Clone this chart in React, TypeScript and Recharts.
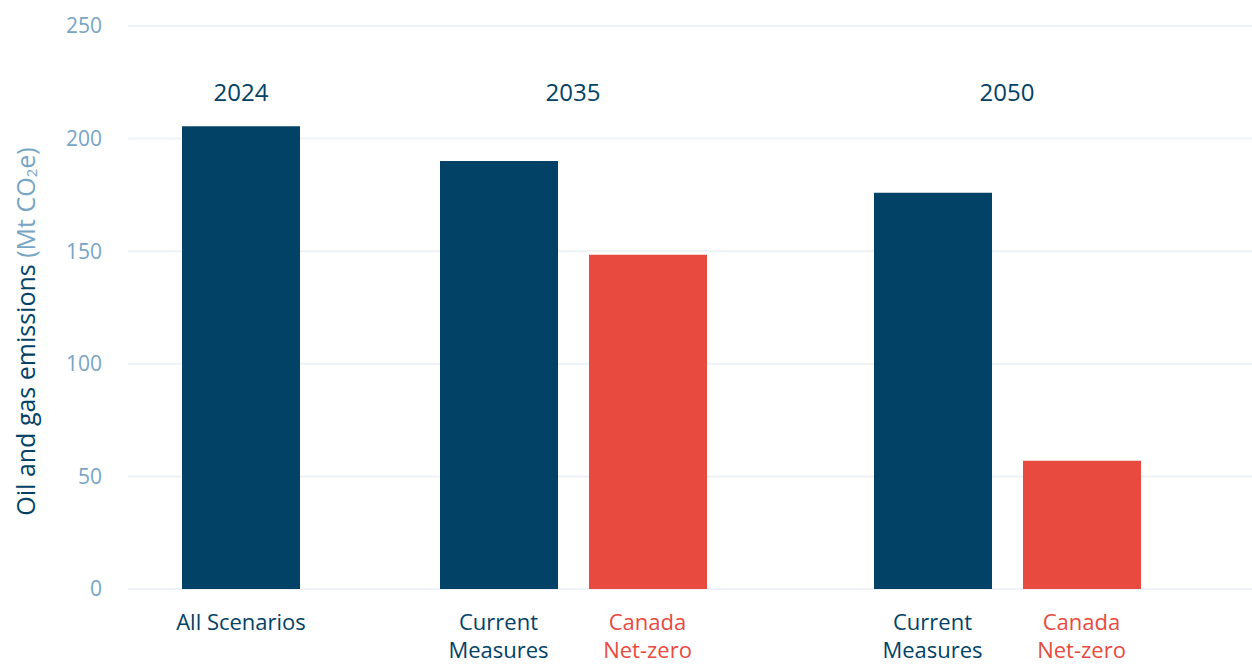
import React from 'react';
import {
  BarChart,
  Bar,
  Cell,
  XAxis,
  YAxis,
  CartesianGrid,
  ReferenceArea,
} from 'recharts';

// values (Mt CO2e)
const years = ['2024', '2035', '2050'];
const baseCategories = ['All Scenarios'];
const scenarioCategories = ['Current Measures', 'Canada Net-zero'];
const emissions2024 = [205.5];
const emissions2035 = [190, 148.4];
const emissions2050 = [176, 57];
const yTicks = [0, 50, 100, 150, 200, 250];

const NAVY = '#024266';
const RED = '#e84a40';
const TICK_BLUE = '#77a5c5';
const GRID = '#eef2f6';
const FONT = "'Open Sans', 'Noto Sans', sans-serif";

const categoryColor: Record<string, string> = {
  'All Scenarios': NAVY,
  'Current Measures': NAVY,
  'Canada Net-zero': RED,
};

const CHART_HEIGHT = 664;
const MARGIN = { top: 26, right: 0, bottom: 0, left: 0 };
const X_AXIS_HEIGHT = 75;

const tickLines = (label: string) =>
  label === 'All Scenarios' ? [label] : label.split(' ');

function CategoryTick(props: any) {
  const { x, y, payload } = props;
  const label: string = payload.value;
  return (
    <g transform={`translate(${x},${y})`}>
      {tickLines(label).map((line, i) => (
        <text
          key={line}
          x={0}
          y={35 + i * 28}
          textAnchor="middle"
          fontFamily={FONT}
          fontSize={22}
          fill={categoryColor[label]}
        >
          {line}
        </text>
      ))}
    </g>
  );
}

function AxisTitle(props: any) {
  const { x, y, height } = props.viewBox;
  const cx = x + 25;
  const cy = y + height / 2 + 24;
  return (
    <text
      x={cx}
      y={cy}
      transform={`rotate(-90, ${cx}, ${cy})`}
      textAnchor="middle"
      dominantBaseline="central"
      fontFamily={FONT}
      fontSize={25}
    >
      <tspan fill={NAVY}>Oil and gas emissions </tspan>
      <tspan fill={TICK_BLUE}>(Mt CO</tspan>
      <tspan fill={TICK_BLUE} fontSize={15} dy={6}>
        2
      </tspan>
      <tspan fill={TICK_BLUE} dy={-6}>
        e)
      </tspan>
    </text>
  );
}

interface GroupChartProps {
  year: string;
  categories: string[];
  values: number[];
  width: number;
  padding: { left: number; right: number };
  showYAxis?: boolean;
}

function GroupChart({
  year,
  categories,
  values,
  width,
  padding,
  showYAxis,
}: GroupChartProps) {
  const data = categories.map((category, i) => ({
    category,
    emissions: values[i],
  }));

  return (
    <BarChart
      width={width}
      height={CHART_HEIGHT}
      data={data}
      margin={MARGIN}
      barSize={118}
    >
      <CartesianGrid vertical={false} stroke={GRID} strokeWidth={2} />
      <XAxis
        dataKey="category"
        axisLine={false}
        tickLine={false}
        tickMargin={0}
        height={X_AXIS_HEIGHT}
        padding={padding}
        interval={0}
        tick={<CategoryTick />}
      />
      <YAxis
        hide={!showYAxis}
        domain={[0, 250]}
        ticks={yTicks}
        width={128}
        axisLine={false}
        tickLine={false}
        tickMargin={20}
        tick={{ fill: TICK_BLUE, fontSize: 21, fontFamily: FONT }}
        label={{ content: (p: any) => <AxisTitle {...p} /> }}
      />
      <ReferenceArea
        x1={categories[0]}
        x2={categories[categories.length - 1]}
        y1={210}
        y2={231}
        fill="none"
        stroke="none"
        label={{
          value: year,
          position: 'center',
          fill: NAVY,
          fontSize: 24,
          fontWeight: 500,
          fontFamily: FONT,
        }}
      />
      <Bar dataKey="emissions" isAnimationActive={false}>
        {data.map((d) => (
          <Cell key={d.category} fill={categoryColor[d.category]} />
        ))}
      </Bar>
    </BarChart>
  );
}

export default function App() {
  return (
    <div
      style={{
        position: 'absolute',
        left: 0,
        top: 0,
        width: 1252,
        height: 664,
        display: 'flex',
        background: '#fff',
      }}
    >
      <GroupChart
        year={years[0]}
        categories={baseCategories}
        values={emissions2024}
        width={354}
        padding={{ left: 0, right: 0 }}
        showYAxis
      />
      <GroupChart
        year={years[1]}
        categories={scenarioCategories}
        values={emissions2035}
        width={436}
        padding={{ left: 70, right: 68 }}
      />
      <GroupChart
        year={years[2]}
        categories={scenarioCategories}
        values={emissions2050}
        width={462}
        padding={{ left: 68, right: 96 }}
      />
    </div>
  );
}
